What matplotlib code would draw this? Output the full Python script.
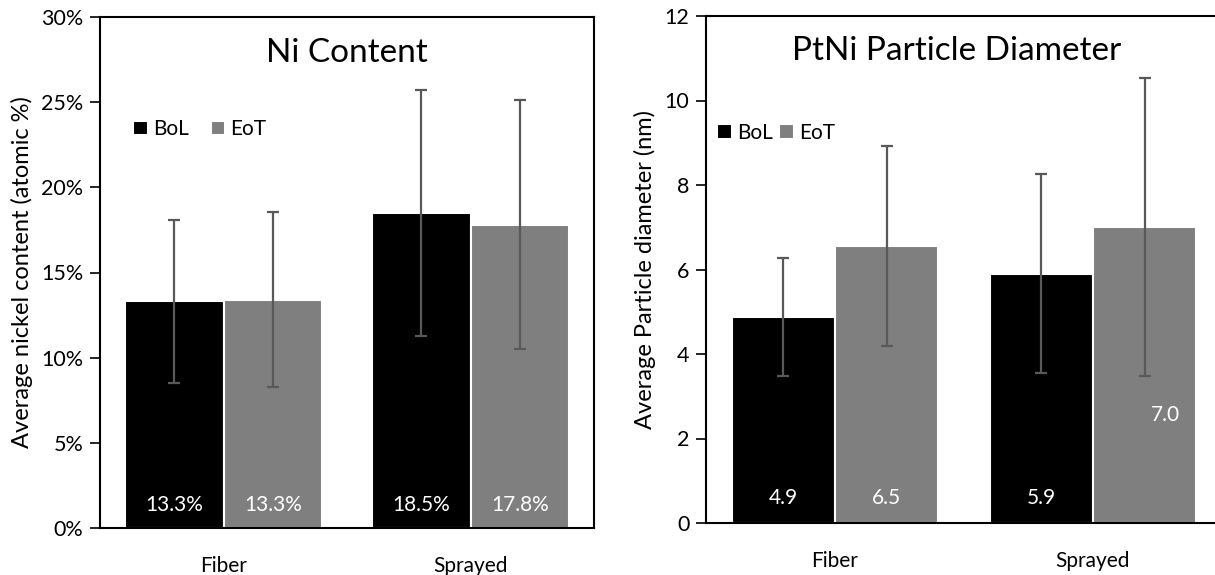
import matplotlib
matplotlib.use("Agg")
import matplotlib.pyplot as plt
from matplotlib.ticker import FuncFormatter
import numpy as np

plt.rcParams['font.family'] = ['Lato', 'DejaVu Sans']

amostras = ['Fiber', 'Sprayed']

# Teor de níquel (%)
ni_bol = [13.3, 18.5]
ni_eot = [13.4, 17.8]
ni_bol_err = [4.8, 7.2]
ni_eot_err = [5.15, 7.3]
ni_bol_rot = ['13.3%', '18.5%']
ni_eot_rot = ['13.3%', '17.8%']

# Diâmetro de partícula (nm)
d_bol = [4.87, 5.9]
d_eot = [6.55, 7.0]
d_bol_err = [1.4, 2.35]
d_eot_err = [2.37, 3.53]
d_bol_rot = ['4.9', '5.9']
d_eot_rot = ['6.5', '7.0']

cor_bol = 'black'
cor_eot = '#7f7f7f'
cor_erro = '#595959'


def barras(ax, bol, eot, bol_err, eot_err):
    x = np.arange(len(amostras))
    w = 0.4
    ax.bar(x - w / 2, bol, w, color=cor_bol, edgecolor='white', linewidth=1.5, label='BoL')
    ax.bar(x + w / 2, eot, w, color=cor_eot, edgecolor='white', linewidth=1.5, label='EoT')
    ax.errorbar(x - w / 2, bol, yerr=bol_err, fmt='none', ecolor=cor_erro, elinewidth=1.6, capsize=4.5, capthick=1.6)
    ax.errorbar(x + w / 2, eot, yerr=eot_err, fmt='none', ecolor=cor_erro, elinewidth=1.6, capsize=4.5, capthick=1.6)
    ax.set_xticks(x)
    ax.set_xticklabels(amostras, fontsize=15)
    ax.set_xlim(-0.5, 1.5)
    ax.tick_params(axis='x', length=0, pad=20)
    ax.tick_params(axis='y', labelsize=15.5, length=7, width=1.2, pad=5)
    for s in ax.spines.values():
        s.set_linewidth(1.5)
    return x, w


def legenda(ax, xa, ya, espaco):
    ax.legend(loc='center left', bbox_to_anchor=(xa, ya), ncol=2, frameon=False, fontsize=15,
              handlelength=0.7, handleheight=0.7, handletextpad=0.25, columnspacing=espaco,
              borderpad=0, borderaxespad=0)


fig = plt.figure(figsize=(12.15, 5.75), dpi=100)
ax1 = fig.add_axes([100 / 1215, 47 / 575, 494 / 1215, 511 / 575])
# o gráfico da direita passa um pouco da borda da figura
ax2 = fig.add_axes([706 / 1215, 52 / 575, 516 / 1215, 507 / 575])

# Gráfico do teor de níquel
x, w = barras(ax1, ni_bol, ni_eot, ni_bol_err, ni_eot_err)
ax1.set_ylim(0, 30)
ax1.set_yticks(range(0, 31, 5))
ax1.yaxis.set_major_formatter(FuncFormatter(lambda v, p: f"{v:.0f}%"))
ax1.set_ylabel('Average nickel content (atomic %)', fontsize=17, labelpad=6)
ax1.text(0.5, 0.93, 'Ni Content', transform=ax1.transAxes, ha='center', va='center', fontsize=24)
for i in range(len(amostras)):
    ax1.text(x[i] - w / 2, 1.35, ni_bol_rot[i], color='white', ha='center', va='center', fontsize=15)
    ax1.text(x[i] + w / 2, 1.35, ni_eot_rot[i], color='white', ha='center', va='center', fontsize=15)
legenda(ax1, 0.067, 0.78, 1.05)

# Gráfico do diâmetro de partícula
x, w = barras(ax2, d_bol, d_eot, d_bol_err, d_eot_err)
ax2.set_ylim(0, 12)
ax2.set_yticks(range(0, 13, 2))
ax2.set_ylabel('Average Particle diameter (nm)', fontsize=17, labelpad=6)
ax2.text(0.485, 0.93, 'PtNi Particle Diameter', transform=ax2.transAxes, ha='center', va='center', fontsize=24)
for i in range(len(amostras)):
    ax2.text(x[i] - w / 2, 0.6, d_bol_rot[i], color='white', ha='center', va='center', fontsize=15)
ax2.text(x[0] + w / 2, 0.6, d_eot_rot[0], color='white', ha='center', va='center', fontsize=15)
ax2.text(x[1] + w / 2 + 0.08, 2.55, d_eot_rot[1], color='white', ha='center', va='center', fontsize=15)
legenda(ax2, 0.022, 0.77, 0.3)

fig.savefig('out.png', dpi=100)
